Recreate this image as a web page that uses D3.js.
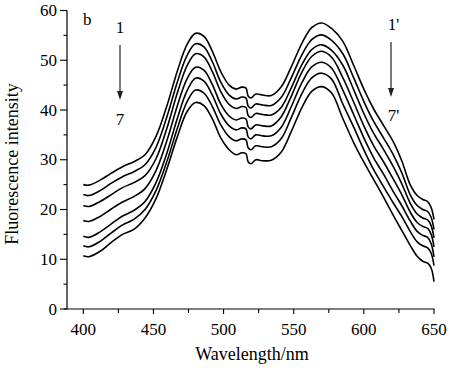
<!DOCTYPE html>
<html>
<head>
<meta charset="utf-8">
<script src="https://cdn.jsdelivr.net/npm/d3@7/dist/d3.min.js"></script>
<style>
  html, body { margin: 0; padding: 0; background: #fff; }
  svg { display: block; }
  text { font-family: "Liberation Serif", "Times New Roman", serif; fill: #000; }
</style>
</head>
<body>
<svg id="chart" width="450" height="377"></svg>
<script>
// ---- data ----
const wavelengths = [400, 404, 412, 420, 428, 436, 444, 452, 460, 467, 474, 480, 486, 492, 498, 504, 509, 513, 516, 517.5, 519.5, 523, 528, 534, 541, 548, 556, 563, 570, 577, 585, 593, 600, 607, 614, 621, 627, 633, 638, 642, 645.5, 648, 650];

const curve1 = [25.0, 24.9, 25.9, 27.3, 28.6, 29.6, 31.0, 34.8, 41.2, 47.8, 53.2, 55.4, 54.8, 51.8, 47.7, 45.0, 44.2, 44.6, 44.4, 42.8, 42.4, 43.2, 43.0, 42.9, 44.6, 48.5, 53.5, 56.6, 57.5, 56.4, 53.8, 48.8, 44.2, 40.2, 36.9, 33.6, 29.8, 25.0, 22.8, 22.0, 21.6, 20.4, 18.0];
const curve2 = [23.0, 22.8, 23.8, 25.3, 26.6, 27.6, 29.0, 32.6, 39.0, 45.6, 51.0, 53.3, 52.7, 49.7, 45.6, 43.0, 42.2, 42.6, 42.4, 40.8, 40.4, 41.2, 41.0, 40.9, 42.5, 46.3, 51.2, 54.2, 55.1, 54.0, 51.3, 46.3, 41.7, 37.7, 34.4, 31.0, 27.4, 23.0, 20.8, 20.0, 19.6, 18.4, 16.0];
const curve3 = [20.8, 20.6, 21.6, 23.0, 24.4, 25.4, 26.8, 30.3, 36.7, 43.4, 48.9, 51.3, 50.7, 47.7, 43.7, 41.1, 40.3, 40.7, 40.5, 38.9, 38.5, 39.3, 39.1, 39.0, 40.5, 44.3, 49.2, 52.2, 53.1, 52.0, 49.0, 43.9, 39.3, 35.3, 32.1, 28.6, 25.2, 21.3, 19.1, 18.3, 17.9, 16.7, 14.3];
const curve4 = [17.8, 17.6, 18.6, 20.1, 21.5, 22.6, 24.2, 27.9, 34.2, 40.8, 46.3, 48.6, 48.0, 45.1, 41.2, 38.8, 38.0, 38.4, 38.2, 36.6, 36.2, 37.0, 36.8, 36.8, 38.6, 42.6, 47.7, 50.8, 51.8, 50.6, 46.5, 41.4, 36.8, 32.8, 29.6, 26.1, 23.0, 19.5, 17.4, 16.6, 16.2, 15.0, 12.5];
const curve5 = [14.6, 14.4, 15.5, 17.1, 18.7, 19.8, 21.6, 25.5, 31.7, 38.3, 43.9, 46.4, 45.8, 43.0, 39.2, 36.8, 36.0, 36.4, 36.2, 34.6, 34.2, 35.0, 34.8, 34.8, 36.5, 40.5, 45.6, 48.7, 49.6, 48.4, 44.0, 38.9, 34.4, 30.4, 27.1, 23.6, 20.8, 17.7, 15.6, 14.8, 14.4, 13.1, 10.5];
const curve6 = [12.7, 12.5, 13.6, 15.3, 16.9, 18.0, 20.0, 23.9, 30.0, 36.3, 41.7, 44.0, 43.4, 40.7, 37.0, 34.6, 33.8, 34.2, 34.0, 32.4, 32.0, 32.8, 32.6, 32.6, 34.2, 38.3, 43.4, 46.5, 47.4, 46.2, 41.2, 36.4, 32.0, 28.0, 24.6, 21.3, 18.6, 15.6, 13.5, 12.7, 12.3, 11.2, 8.7];
const curve7 = [10.7, 10.5, 11.6, 13.4, 15.0, 16.0, 18.3, 22.3, 28.5, 34.6, 39.7, 41.5, 40.9, 38.2, 34.4, 32.0, 31.0, 31.4, 31.2, 29.6, 29.2, 30.0, 29.8, 29.9, 31.5, 35.5, 40.6, 43.8, 44.7, 43.4, 38.3, 33.3, 29.5, 26.0, 22.5, 18.8, 15.8, 12.8, 10.6, 9.6, 9.2, 8.2, 5.5];

const seriesList = [curve1, curve2, curve3, curve4, curve5, curve6, curve7];

const xTickValues = [400, 450, 500, 550, 600, 650];
const xMinorTicks = [425, 475, 525, 575, 625];
const yTickValues = [0, 10, 20, 30, 40, 50, 60];
const yMinorTicks = [5, 15, 25, 35, 45, 55];

const xTitle = "Wavelength/nm";
const yTitle = "Fluorescence intensity";

// ---- layout ----
const svg = d3.select("#chart");
const axisX0 = 67;           // y-axis line position
const plotTop = 10.5, plotBottom = 309;

const x = d3.scaleLinear().domain([400, 650]).range([83.3, 434]);
const y = d3.scaleLinear().domain([0, 60]).range([plotBottom, plotTop]);

// axes lines
svg.append("line").attr("x1", axisX0).attr("x2", axisX0)
  .attr("y1", y(60)).attr("y2", plotBottom)
  .attr("stroke", "#000").attr("stroke-width", 1.2);
svg.append("line").attr("x1", axisX0 - 3).attr("x2", x(650) + 0.5)
  .attr("y1", plotBottom).attr("y2", plotBottom)
  .attr("stroke", "#000").attr("stroke-width", 1.2);

// y ticks
const yt = svg.append("g");
yTickValues.forEach(v => {
  yt.append("line").attr("x1", axisX0 - 7).attr("x2", axisX0)
    .attr("y1", y(v)).attr("y2", y(v)).attr("stroke", "#000").attr("stroke-width", 1.1);
  yt.append("text").attr("x", axisX0 - 10).attr("y", y(v) + 5.5)
    .attr("text-anchor", "end").attr("font-size", 17).text(v);
});
yMinorTicks.forEach(v => {
  yt.append("line").attr("x1", axisX0 - 3.5).attr("x2", axisX0)
    .attr("y1", y(v)).attr("y2", y(v)).attr("stroke", "#000").attr("stroke-width", 1.1);
});

// x ticks
const xt = svg.append("g");
xTickValues.forEach(v => {
  xt.append("line").attr("x1", x(v)).attr("x2", x(v))
    .attr("y1", plotBottom).attr("y2", plotBottom + 5).attr("stroke", "#000").attr("stroke-width", 1.1);
  xt.append("text").attr("x", x(v)).attr("y", 335)
    .attr("text-anchor", "middle").attr("font-size", 17).text(v);
});
xMinorTicks.forEach(v => {
  xt.append("line").attr("x1", x(v)).attr("x2", x(v))
    .attr("y1", plotBottom).attr("y2", plotBottom + 4).attr("stroke", "#000").attr("stroke-width", 1.1);
});

// axis titles
svg.append("text").attr("x", 252).attr("y", 360)
  .attr("text-anchor", "middle").attr("font-size", 18).text(xTitle);
svg.append("text")
  .attr("transform", "translate(18,164) rotate(-90)")
  .attr("text-anchor", "middle").attr("font-size", 18).text(yTitle);

// curves
const line = d3.line()
  .x((d, i) => x(wavelengths[i]))
  .y(d => y(d))
  .curve(d3.curveCatmullRom.alpha(0.5));

svg.append("g").selectAll("path")
  .data(seriesList)
  .join("path")
  .attr("d", d => line(d))
  .attr("fill", "none")
  .attr("stroke", "#000")
  .attr("stroke-width", 1.6);

// annotations
svg.append("text").attr("x", 83).attr("y", 25).attr("font-size", 17).text("b");

function arrow(cx, y1, y2, topLabel, botLabel, topY, botY, labelDx) {
  svg.append("line").attr("x1", cx).attr("x2", cx).attr("y1", y1).attr("y2", y2 - 8)
    .attr("stroke", "#333").attr("stroke-width", 1.3);
  svg.append("path")
    .attr("d", `M${cx - 3},${y2 - 9} L${cx + 3},${y2 - 9} L${cx},${y2} Z`)
    .attr("fill", "#222");
  svg.append("text").attr("x", cx + labelDx).attr("y", topY).attr("text-anchor", "middle")
    .attr("font-size", 17).text(topLabel);
  svg.append("text").attr("x", cx + labelDx).attr("y", botY).attr("text-anchor", "middle")
    .attr("font-size", 17).text(botLabel);
}
arrow(120, 45, 100, "1", "7", 33, 125, 0);
arrow(391, 42, 97, "1'", "7'", 30, 121, 2.5);
</script>
</body>
</html>
